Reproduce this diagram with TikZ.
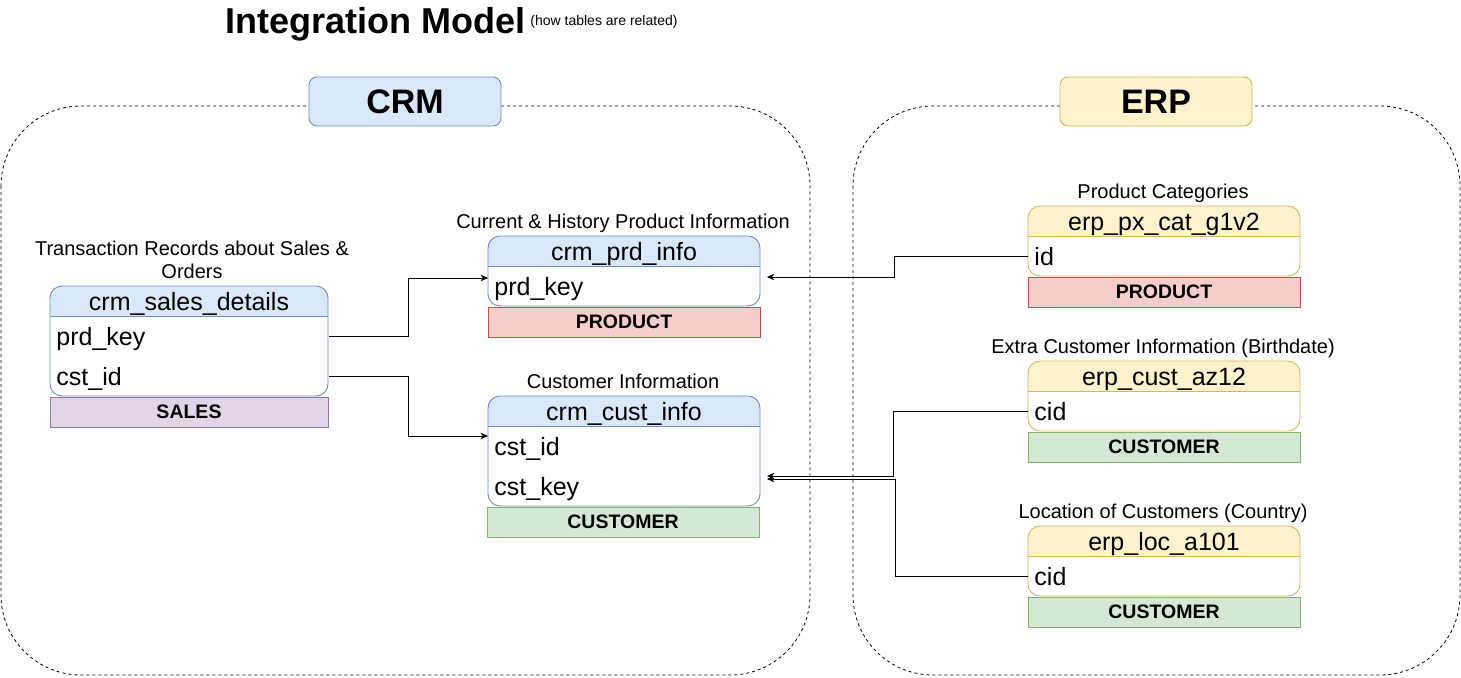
\documentclass[tikz,border=0pt]{standalone}
\usepackage{fontspec}
\setmainfont{Liberation Sans}
\usetikzlibrary{arrows.meta}
\definecolor{blueF}{HTML}{DAE8FC}\definecolor{blueS}{HTML}{6C8EBF}
\definecolor{yelF}{HTML}{FFF2CC}\definecolor{yelS}{HTML}{D6B656}
\definecolor{redF}{HTML}{F8CECC}\definecolor{redS}{HTML}{B85450}
\definecolor{grnF}{HTML}{D5E8D4}\definecolor{grnS}{HTML}{82B366}
\definecolor{purF}{HTML}{E1D5E7}\definecolor{purS}{HTML}{9673A6}
% #1 name, #2 x1, #3 y1, #4 x2, #5 y2, #6 fill, #7 stroke, #8 title
\newcommand{\dbtab}[8]{%
  \begin{scope}
    \clip[rounded corners=12pt] (#2,#3) rectangle (#4,#5);
    \fill[white] (#2,#3) rectangle (#4,#5);
    \fill[#6] (#2,#3) rectangle (#4,#3+30);
  \end{scope}
  \draw[#7, rounded corners=12pt] (#2,#3) rectangle (#4,#5);
  \draw[#7] (#2,#3+30) -- (#4,#3+30);
  \node[hdrtext] (#1) at ({(#2+#4)/2},#3+15) {#8};
}
\begin{document}
\begin{tikzpicture}[x=1pt,y=-1pt,line width=0.9pt,
  hdrtext/.style={font=\fontsize{25}{30}\selectfont, inner sep=0pt, text height=18pt, text depth=0pt},
  field/.style={anchor=west, text width=266pt, align=left, inner xsep=6pt, inner ysep=0pt,
     minimum height=40pt, text height=18pt, text depth=0pt, font=\fontsize{25}{30}\selectfont},
  catbox/.style={minimum width=272pt, minimum height=30pt, inner sep=0pt, text height=13pt, text depth=0pt,
     line width=0.8pt, font=\fontsize{19.5}{24}\selectfont\bfseries},
  lbl/.style={anchor=base, inner sep=0pt, font=\fontsize{20}{23}\selectfont},
  conn/.style={-{Stealth[length=7.5pt,width=6.5pt]}, line width=0.9pt},
  container/.style={dash pattern=on 3pt off 3pt, rounded corners=80pt, line width=0.8pt},
  system/.style={rounded corners=8pt, minimum width=192pt, minimum height=49pt, inner sep=0pt,
     text height=24pt, text depth=0pt, font=\fontsize{34}{40}\selectfont\bfseries}
]
\useasboundingbox (0,0) rectangle (1461,677);

% title
\node[anchor=base west, inner sep=0pt, font=\fontsize{36}{42}\selectfont\bfseries] (title) at (225,34) {Integration Model};
\node[anchor=base west, inner sep=0pt, font=\fontsize{14}{16}\selectfont] (subtitle) at (530,26) {(how tables are related)};

% containers
\draw[container] (1,106) rectangle (810,675);
\draw[container] (853,106) rectangle (1460,675);
\node[system, draw=blueS, fill=blueF] (crm) at (405,101.5) {CRM};
\node[system, draw=yelS, fill=yelF] (erp) at (1156,101.5) {ERP};

% crm_sales_details
\node[lbl] (lsales) at (192,255) {Transaction Records about Sales \&};
\node[lbl] (lsales2) at (192,278) {Orders};
\dbtab{sales}{50}{286}{328}{396}{blueF}{blueS}{crm\_sales\_details}
\node[field] (sprd) at (50,336) {prd\_key};
\node[field] (scst) at (50,376) {cst\_id};
\node[catbox, minimum width=278pt, draw=purS, fill=purF] (csales) at (189,412) {SALES};

% crm_prd_info
\node[lbl] (lprd) at (623,228) {Current \& History Product Information};
\dbtab{prd}{488}{236}{760}{306}{blueF}{blueS}{crm\_prd\_info}
\node[field] (pprd) at (488,286) {prd\_key};
\node[catbox, draw=redS, fill=redF] (cprd) at (624,322) {PRODUCT};

% crm_cust_info
\node[lbl] (lcust) at (623,388) {Customer Information};
\dbtab{cust}{488}{396}{760}{506}{blueF}{blueS}{crm\_cust\_info}
\node[field] (cid) at (488,446) {cst\_id};
\node[field] (ckey) at (488,486) {cst\_key};
\node[catbox, draw=grnS, fill=grnF] (ccust) at (623,522) {CUSTOMER};

% erp_px_cat_g1v2
\node[lbl] (lpx) at (1163,198) {Product Categories};
\dbtab{px}{1028}{206}{1300}{276}{yelF}{yelS}{erp\_px\_cat\_g1v2}
\node[field] (pxid) at (1028,256) {id};
\node[catbox, draw=redS, fill=redF] (cpx) at (1164,292) {PRODUCT};

% erp_cust_az12
\node[lbl] (laz) at (1163,353) {Extra Customer Information (Birthdate)};
\dbtab{az}{1028}{361}{1300}{431}{yelF}{yelS}{erp\_cust\_az12}
\node[field] (azcid) at (1028,411) {cid};
\node[catbox, draw=grnS, fill=grnF] (caz) at (1164,447) {CUSTOMER};

% erp_loc_a101
\node[lbl] (lloc) at (1163,518) {Location of Customers (Country)};
\dbtab{loc}{1028}{526}{1300}{596}{yelF}{yelS}{erp\_loc\_a101}
\node[field] (loccid) at (1028,576) {cid};
\node[catbox, draw=grnS, fill=grnF] (cloc) at (1164,612) {CUSTOMER};

% connectors
\draw[conn] (sprd.east) -- ++(80,0) |- ([yshift=8pt]pprd.west);
\draw[conn] (scst.east) -- ++(80,0) |- ([yshift=10pt]cid.west);
\draw[conn] (pxid.west) -- ++(-134,0) |- ([yshift=9pt]pprd.east);
\draw[conn] (azcid.west) -- ++(-135,0) |- ([yshift=10pt]ckey.east);
\draw[conn] (loccid.west) -- ++(-133,0) |- ([yshift=7pt]ckey.east);
\end{tikzpicture}
\end{document}
